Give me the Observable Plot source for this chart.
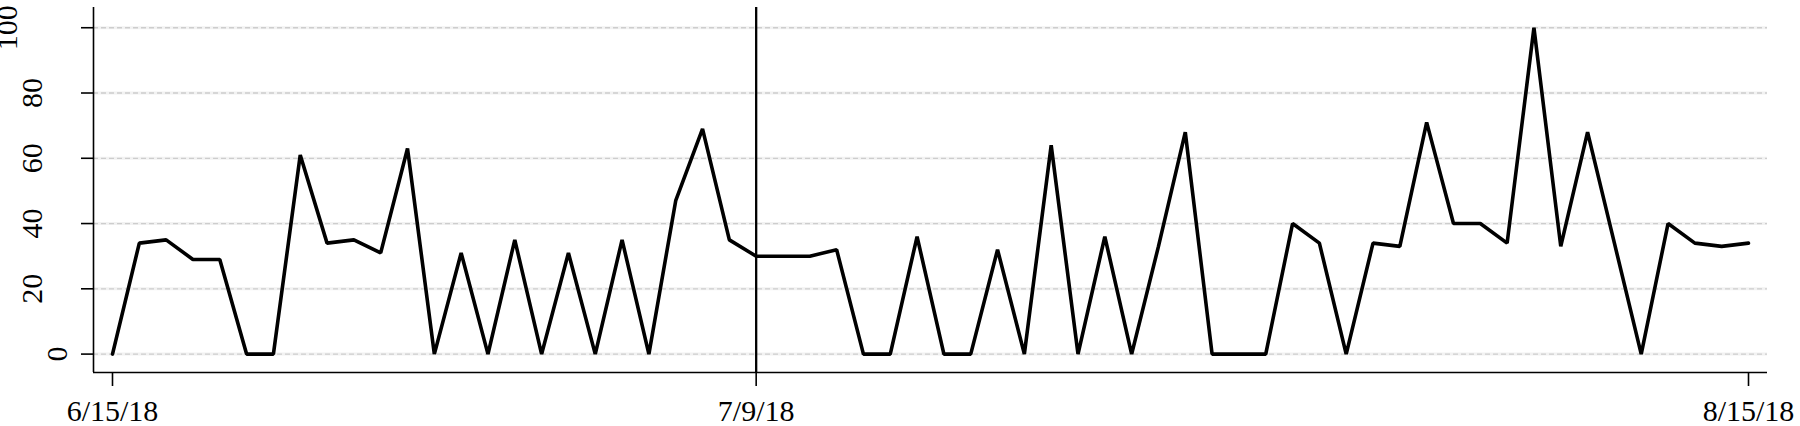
<!DOCTYPE html>
<html><head><meta charset="utf-8">
<script src="https://cdn.jsdelivr.net/npm/d3@7"></script>
<script src="https://cdn.jsdelivr.net/npm/@observablehq/plot@0.6"></script>
<style>html,body{margin:0;padding:0;background:#fff;}</style>
</head><body><div id="chart"></div>
<script>
const startDate = "2018-06-15";
const values = [0,34,35,29,29,0,0,61,34,35,31,63,0,31,0,35,0,31,0,35,0,47,69,35,30,30,30,32,0,0,36,0,0,32,0,64,0,36,0,33,68,0,0,0,40,34,0,34,33,71,40,40,34,100,33,68,34,0,40,34,33,34];
const xTickDates = ["2018-06-15","2018-07-09","2018-08-15"];
const xTickLabels = ["6/15/18","7/9/18","8/15/18"];
const refLineDate = "2018-07-09";
const yTicks = [0,20,40,60,80,100];
const yTickLabels = ["0","20","40","60","80","100"];

const start = new Date(startDate + "T00:00:00Z");
const data = values.map((v,i)=>({date: d3.utcDay.offset(start,i), value: v}));
const end = data[data.length-1].date;
const xTicks = xTickDates.map(s=>new Date(s+"T00:00:00Z"));
const ref = new Date(refLineDate+"T00:00:00Z");
const yLab = yTicks.map((v,i)=>({v, label: yTickLabels[i]}));
const labelDx = {1:-36, 2:-61, 3:-86};
const xDomain = [d3.utcHour.offset(start,-17), d3.utcHour.offset(end,17)];
const yDomain = [-5.64, 106.2];

const chart = Plot.plot({
  width:1800, height:426,
  marginLeft:93, marginRight:33, marginTop:7, marginBottom:54,
  style: {fontFamily:"Liberation Serif", fontSize:"30px", color:"black", background:"white"},
  x: {type:"utc", domain:xDomain},
  y: {domain:yDomain},
  marks: [
    Plot.ruleY(yTicks, {stroke:"#f2f2f2", strokeWidth:3}),
    Plot.ruleY(yTicks, {stroke:"#cdcdcd", strokeWidth:1.3, strokeDasharray:"5,3"}),
    Plot.ruleX([ref], {stroke:"black", strokeWidth:2.3}),
    Plot.lineY(data, {x:"date", y:"value", stroke:"black", strokeWidth:3.6, strokeLinejoin:"miter"}),
    Plot.ruleX([xDomain[0]], {stroke:"black", strokeWidth:1.6}),
    Plot.ruleY([yDomain[0]], {stroke:"black", strokeWidth:1.6}),
    Plot.axisX(xTicks, {tickSize:14, tickPadding:13, strokeWidth:1.6, fontSize:30,
      tickFormat: d => xTickLabels[xTicks.findIndex(t=>+t===+d)]}),
    Plot.axisY(yTicks, {tickSize:12, strokeWidth:1.6, tickFormat: () => ""}),
    ...[1,2,3].map(n=>Plot.text(yLab.filter(d=>d.label.length===n), {
      y:"v", text:"label", frameAnchor:"left", textAnchor:"middle", lineAnchor:"middle",
      rotate:-90, dx: labelDx[n], fontSize:30, fill:"black"}))
  ]
});
document.getElementById("chart").appendChild(chart);
</script>
</body></html>
